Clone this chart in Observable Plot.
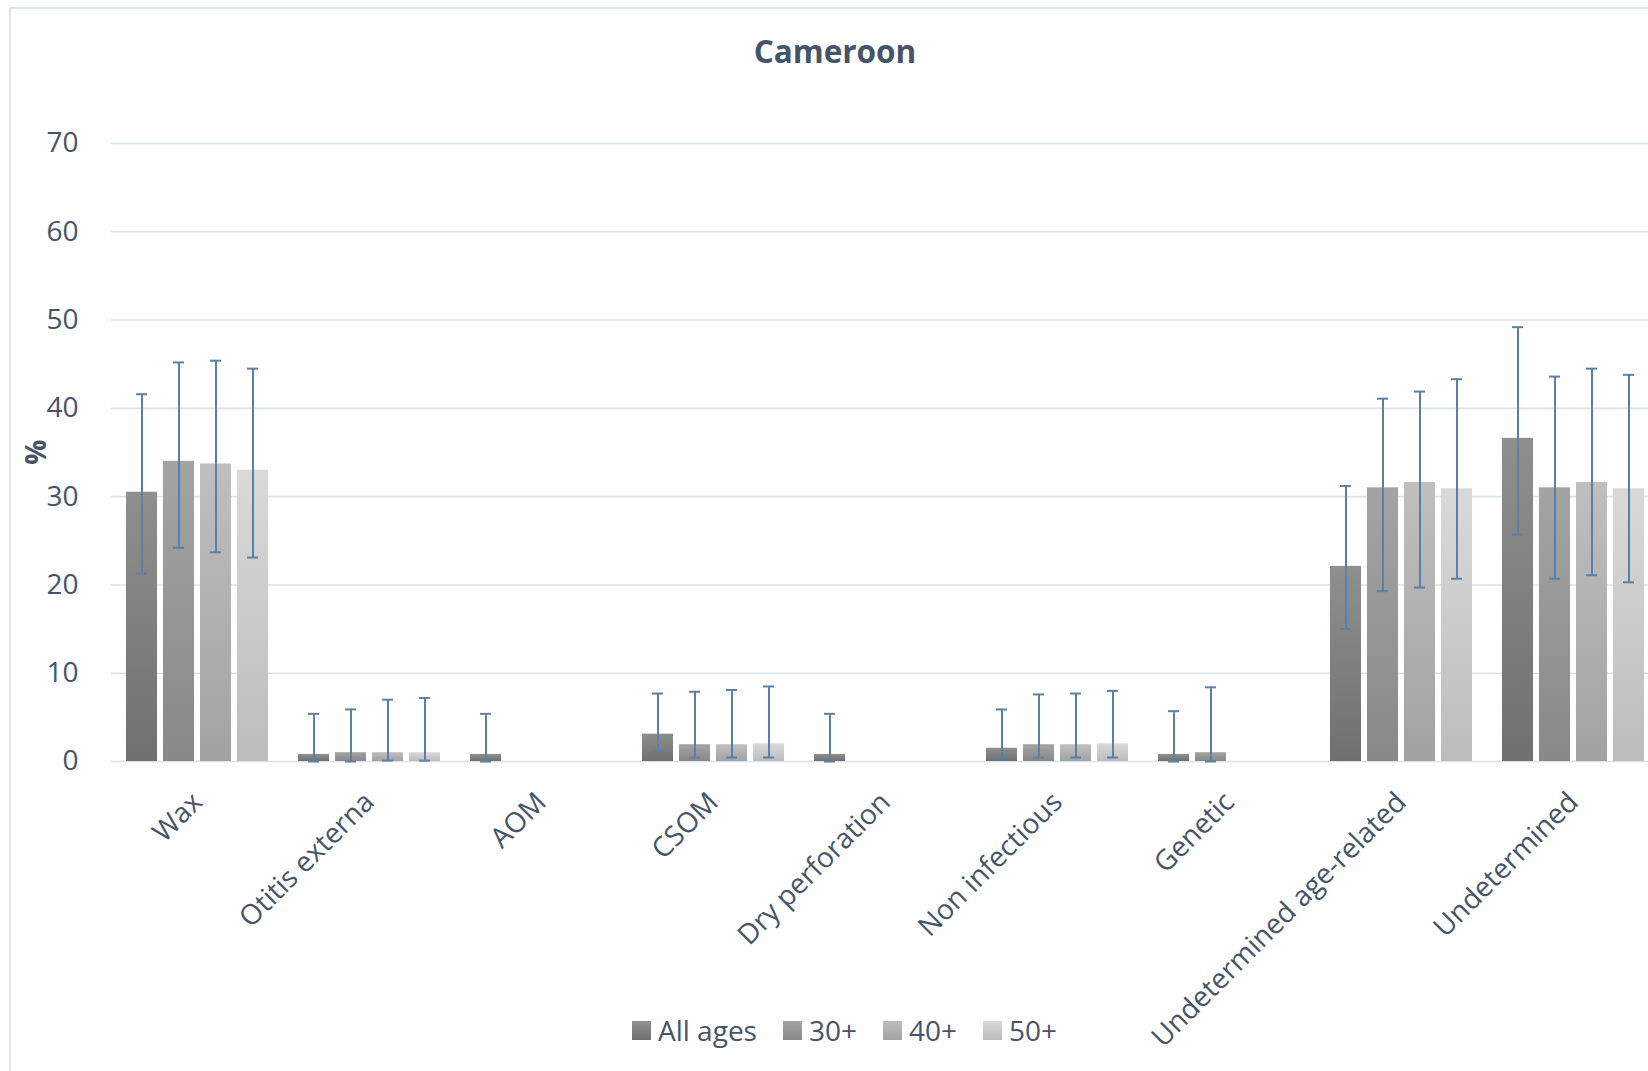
<!DOCTYPE html>
<html>
<head>
<meta charset="utf-8">
<script src="https://cdn.jsdelivr.net/npm/d3@7"></script>
<script src="https://cdn.jsdelivr.net/npm/@observablehq/plot@0.6"></script>
<style>
  body { margin: 0; background: #fff; }
  #wrap { position: relative; width: 1648px; height: 1071px; overflow: hidden; font-family: "Open Sans", sans-serif; color: #44546a; background: #fff; }
  #title { height: 100px; width: 1670px; box-sizing: border-box; padding-top: 35px; text-align: center; font-weight: bold; font-size: 31.5px; line-height: 31px; }
  #frame { position: absolute; left: 9px; top: 7px; width: 1700px; height: 1200px; border: 2px solid #e0e5eb; box-sizing: border-box; pointer-events: none; }
  #ylabel { position: absolute; left: 15px; top: 432px; width: 40px; height: 40px; line-height: 40px; text-align: center; font-weight: bold; font-size: 28px; transform: rotate(-90deg); }
  #legend { position: absolute; left: 632px; top: 1010px; display: flex; align-items: center; font-size: 28px; line-height: 40px; white-space: nowrap; }
  #legend .item { display: flex; align-items: center; margin-right: 26px; }
  #legend .sw { width: 19px; height: 19px; margin-right: 7px; }
</style>
</head>
<body>
<div id="wrap">
  <div id="title">Cameroon</div>
  <div id="chart"></div>
  <div id="ylabel">%</div>
  <div id="legend"></div>
  <div id="frame"></div>
</div>
<script>
// ---- data ----
const categories = ["Wax", "Otitis externa", "AOM", "CSOM", "Dry perforation", "Non infectious", "Genetic", "Undetermined age-related", "Undetermined"];
const series = ["All ages", "30+", "40+", "50+"];
const yTicks = [0, 10, 20, 30, 40, 50, 60, 70];

const allAges   = [30.5, 0.8, 0.8, 3.1, 0.8, 1.5, 0.8, 22.1, 36.6];
const allAgesLo = [21.3, 0.0, 0.0, 1.2, 0.0, 0.4, 0.0, 15.0, 25.7];
const allAgesHi = [41.6, 5.4, 5.4, 7.7, 5.4, 5.9, 5.7, 31.2, 49.2];

const age30   = [34.0, 1.0, null, 1.9, null, 1.9, 1.0, 31.0, 31.0];
const age30Lo = [24.2, 0.0, null, 0.45, null, 0.45, 0.0, 19.3, 20.7];
const age30Hi = [45.2, 5.9, null, 7.9, null, 7.6, 8.4, 41.1, 43.6];

const age40   = [33.7, 1.0, null, 1.9, null, 1.9, null, 31.6, 31.6];
const age40Lo = [23.7, 0.1, null, 0.45, null, 0.45, null, 19.7, 21.1];
const age40Hi = [45.4, 7.0, null, 8.1, null, 7.7, null, 41.9, 44.5];

const age50   = [33.0, 1.0, null, 2.0, null, 2.0, null, 30.9, 30.9];
const age50Lo = [23.1, 0.1, null, 0.45, null, 0.45, null, 20.7, 20.3];
const age50Hi = [44.5, 7.2, null, 8.5, null, 8.0, null, 43.3, 43.8];

// ---- styles ----
const gradColors = [["#8f8f8f", "#707070"], ["#a4a4a4", "#888888"], ["#bfbfbf", "#a2a2a2"], ["#d9d9d9", "#bcbcbc"]];
const errColor = "#5b7fa6";
const gridColor = "#dce2e9";

// ---- table ----
const seriesData = [[allAges, allAgesLo, allAgesHi], [age30, age30Lo, age30Hi], [age40, age40Lo, age40Hi], [age50, age50Lo, age50Hi]];
const rows = [];
seriesData.forEach(([v, lo, hi], i) => {
  categories.forEach((c, j) => {
    if (v[j] != null) rows.push({category: c, series: series[i], value: v[j], lo: lo[j], hi: hi[j]});
  });
});

const chart = Plot.plot({
  width: 1648,
  height: 971,
  marginLeft: 107,
  marginRight: -15,
  marginTop: 43,
  marginBottom: 310,
  style: {fontFamily: "Open Sans, sans-serif", fontSize: "28px", color: "#44546a", background: "transparent", overflow: "visible"},
  fx: {domain: categories, padding: 0, axis: "bottom", tickRotate: -45, tickSize: 0, tickPadding: 36, label: null},
  x: {domain: series, paddingInner: 0.17, paddingOuter: 0.37, axis: null},
  y: {domain: [0, 70], ticks: yTicks, tickSize: 0, tickPadding: 33, label: null},
  color: {domain: series, range: series.map((d, i) => `url(#grad${i})`)},
  marks: [
    Plot.ruleY(yTicks, {stroke: gridColor, strokeWidth: 1.6}),
    Plot.barY(rows, {fx: "category", x: "series", y: "value", fill: "series"}),
    Plot.ruleX(rows, {fx: "category", x: "series", y1: "lo", y2: "hi", stroke: errColor, strokeWidth: 2}),
    Plot.tickY(rows, {fx: "category", x: "series", y: "lo", stroke: errColor, strokeWidth: 2, insetLeft: 10, insetRight: 10}),
    Plot.tickY(rows, {fx: "category", x: "series", y: "hi", stroke: errColor, strokeWidth: 2, insetLeft: 10, insetRight: 10})
  ]
});

const defs = d3.select(chart).insert("defs", ":first-child");
gradColors.forEach(([top, bottom], i) => {
  const g = defs.append("linearGradient").attr("id", "grad" + i)
    .attr("x1", 0).attr("y1", 0).attr("x2", 0).attr("y2", 1);
  g.append("stop").attr("offset", 0).attr("stop-color", top);
  g.append("stop").attr("offset", 1).attr("stop-color", bottom);
});

document.getElementById("chart").appendChild(chart);

const legend = d3.select("#legend");
series.forEach((s, i) => {
  const it = legend.append("div").attr("class", "item");
  it.append("div").attr("class", "sw").style("background", `linear-gradient(${gradColors[i][0]}, ${gradColors[i][1]})`);
  it.append("span").text(s);
});
</script>
</body>
</html>
